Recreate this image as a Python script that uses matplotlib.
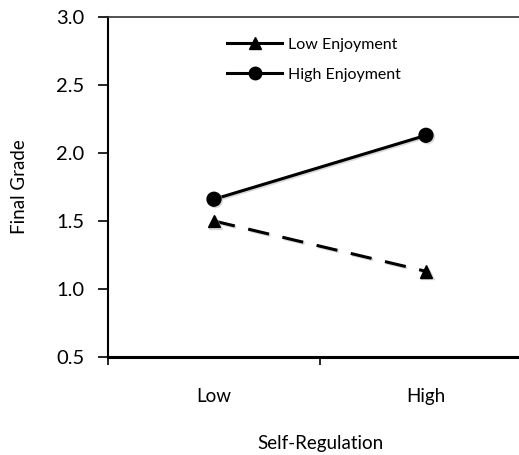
import matplotlib.pyplot as plt
from matplotlib.lines import Line2D
import matplotlib.patheffects as pe

plt.rcParams['font.family'] = ['Lato', 'DejaVu Sans']

categories = ['Low', 'High']
low_enjoyment = [1.50, 1.13]
high_enjoyment = [1.66, 2.13]
y_ticks = [0.5, 1.0, 1.5, 2.0, 2.5, 3.0]
y_tick_labels = ['0.5', '1.0', '1.5', '2.0', '2.5', '3.0']

W, H = 519, 455
fig = plt.figure(figsize=(W / 100, H / 100), dpi=100)
# left spine at x=108, top at y=17, bottom at y=357 (pixels)
ax = fig.add_axes([108 / W, 1 - 357 / H, (W - 108) / W, (357 - 17) / H])

x = [0.5, 1.5]
shadow = [pe.SimpleLineShadow(offset=(1, -1), shadow_color='0.75', alpha=0.6), pe.Normal()]
ax.plot(x, low_enjoyment, color='black', lw=2.2, dashes=(7, 4.5),
        marker='^', markersize=9, path_effects=shadow, clip_on=False)
ax.plot(x, high_enjoyment, color='black', lw=2.2,
        marker='o', markersize=10, path_effects=shadow, clip_on=False)

ax.set_xlim(0, (W - 108) / 212)
ax.set_ylim(0.5, 3.0)
ax.set_yticks(y_ticks)
ax.set_yticklabels(y_tick_labels, fontsize=14.5)
ax.set_xticks([0, 1])
ax.set_xticklabels([])
ax.set_xticks(x, minor=True)
ax.set_xticklabels(categories, minor=True, fontsize=13.5)
ax.tick_params(axis='x', which='minor', length=0, pad=22)
ax.tick_params(axis='x', which='major', direction='out', length=6, width=1.2)
ax.tick_params(axis='y', direction='out', length=7, width=1.2, pad=10)

ax.spines['right'].set_visible(False)
ax.spines['top'].set_linewidth(1.2)
ax.spines['top'].set_color('0.2')
ax.spines['left'].set_linewidth(1.5)
ax.spines['bottom'].set_linewidth(2.2)

ax.set_ylabel('Final Grade', fontsize=13.5)
ax.yaxis.set_label_coords(-(108 - 20) / (W - 108), 0.5)
ax.set_xlabel('Self-Regulation', fontsize=13.5)
ax.xaxis.set_label_coords((320 - 108) / (W - 108), -(443 - 357) / 340)
ax.xaxis.label.set_va('center')
ax.yaxis.label.set_va('center')

handles = [
    Line2D([], [], color='black', lw=2.2, marker='^', markersize=8),
    Line2D([], [], color='black', lw=2.2, marker='o', markersize=9),
]
ax.legend(handles, ['Low Enjoyment', 'High Enjoyment'], loc='upper left',
          bbox_to_anchor=(221 / W, 1 - 31 / H), bbox_transform=fig.transFigure,
          frameon=False, fontsize=11.5, handlelength=3.4, handletextpad=0.4,
          labelspacing=1.0, borderaxespad=0)

fig.savefig('out.png', dpi=100)
